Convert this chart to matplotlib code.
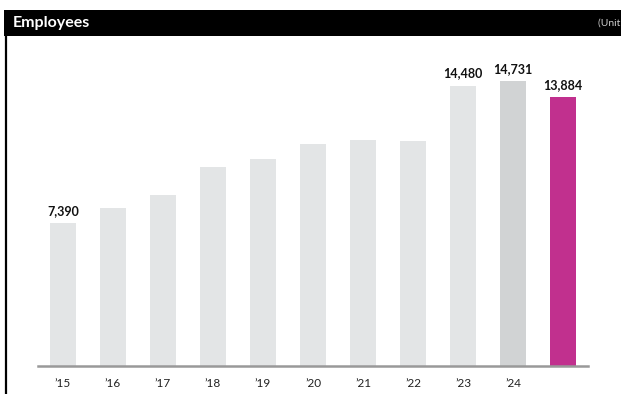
import matplotlib.pyplot as plt
from matplotlib.patches import Rectangle
from matplotlib.lines import Line2D

plt.rcParams['font.family'] = ['Lato', 'DejaVu Sans']

# data
years = ['’15', '’16', '’17', '’18', '’19', '’20', '’21', '’22', '’23', '’24', '']
employees = [7390, 8170, 8840, 10280, 10700, 11470, 11680, 11630, 14480, 14731, 13884]
labelled = [0, 8, 9, 10]
colors = ['#E3E5E6'] * 9 + ['#D1D3D4', '#C1308E']

W, H = 621, 394
fig = plt.figure(figsize=(W / 100, H / 100), dpi=100)

# header band and left rule
fig.patches.append(Rectangle((4 / W, 1 - 36 / H), 1, 26 / H, transform=fig.transFigure,
                             facecolor='black', edgecolor='none'))
fig.lines.append(Line2D([6 / W, 6 / W], [0, 1 - 36 / H], transform=fig.transFigure,
                        color='black', linewidth=1.6))
fig.text(13 / W, 1 - 23.5 / H, 'Employees', color='white', fontsize=11.5,
         fontweight='bold', va='center', ha='left')
fig.text(598 / W, 1 - 23 / H, '(Unit: persons)', color='#CCCCCC', fontsize=7.5,
         va='center', ha='left')

# axes: baseline at y=366 px, x from 38 to 588 px
ax = fig.add_axes([38 / W, 28 / H, 550 / W, 330 / H])
x = range(len(employees))
ax.bar(x, employees, width=0.51, color=colors, zorder=2)
ax.set_xlim(-0.5, len(employees) - 0.5)
ax.set_ylim(0, 330 / 0.01935)

for i in labelled:
    ax.annotate(f'{employees[i]:,}', (i, employees[i]), xytext=(0, 4.5),
                textcoords='offset points', ha='center', va='bottom',
                fontsize=9, fontweight='bold', color='#111111')

for s in ['top', 'right', 'left']:
    ax.spines[s].set_visible(False)
ax.spines['bottom'].set_color('#999999')
ax.spines['bottom'].set_linewidth(1.8)
ax.spines['bottom'].set_zorder(3)
ax.set_yticks([])
ax.set_xticks(list(x))
ax.set_xticklabels(years, fontsize=8.5, color='#222222')
ax.tick_params(axis='x', length=0, pad=8.5)

fig.savefig('out.png', dpi=100)
